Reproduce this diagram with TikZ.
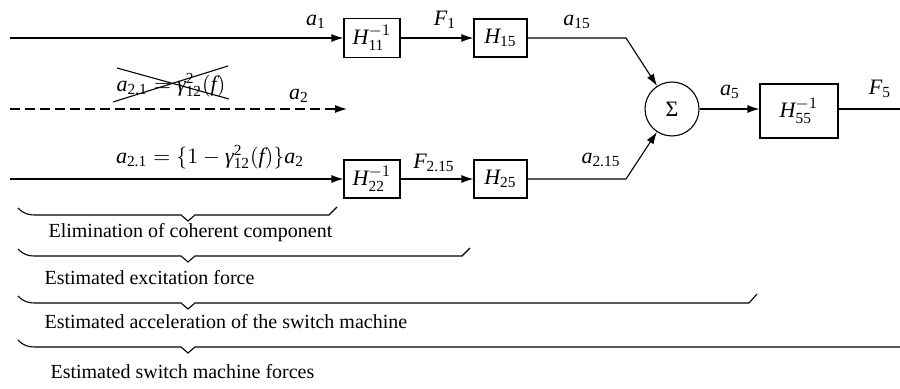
\documentclass[tikz,border=0pt]{standalone}
\usepackage{amsmath}
\usepackage{fontspec}
\setmainfont{Liberation Serif}
\usetikzlibrary{arrows.meta}
\newcommand\mv[1]{\text{\itshape #1}}
\newcommand\nr[1]{\text{#1}}
\begin{document}
\begin{tikzpicture}[x=0.5pt,y=-0.5pt,line width=0.55pt,
  font=\fontsize{10}{12}\selectfont,
  mth/.style={font=\fontsize{11}{13}\selectfont},
  blk/.style={draw,inner sep=0pt,mth},
  arr/.style={-{Latex[length=6pt,width=4pt]}},
  lbl/.style={inner sep=0pt,mth},
  txt/.style={inner sep=0pt,anchor=west},
  brc/.style={line width=0.55pt}]
\useasboundingbox (0,0) rectangle (900,389);
% blocks
\node[blk,minimum width=28pt,minimum height=19.5pt] (h11) at (372,38) {$\mv{H}_{\nr{11}}^{-1}$};
\node[blk,minimum width=26.5pt,minimum height=19pt] (h15) at (500.5,38) {$\mv{H}_{\nr{15}}$};
\node[blk,minimum width=28pt,minimum height=19pt] (h22) at (372,179) {$\mv{H}_{\nr{22}}^{-1}$};
\node[blk,minimum width=26.5pt,minimum height=19pt] (h25) at (500.5,179) {$\mv{H}_{\nr{25}}$};
\node[circle,draw,minimum size=27pt,inner sep=0pt,mth] (sum) at (672,109) {Σ};
\node[blk,minimum width=39pt,minimum height=27pt] (h55) at (799,111) {$\mv{H}_{\nr{55}}^{-1}$};
% coordinates
\coordinate (s1) at (10,38);
\coordinate (s2) at (10,179);
\coordinate (d1) at (10,109);
\coordinate (d2) at (347,109);
\coordinate (k1) at (626,38);
\coordinate (k2) at (626,179);
\coordinate (e5) at (900,109);
% connectors
\draw[arr] (s1) -- (h11);
\draw[arr] (h11) -- (h15);
\draw[arr] (h15.east) -- (k1) -- (sum);
\draw[arr] (s2) -- (h22);
\draw[arr] (h22) -- (h25);
\draw[arr] (h25.east) -- (k2) -- (sum);
\draw[arr] (sum.east) -- (sum.east -| h55.west);
\draw (h55.east |- e5) -- (e5);
\draw[arr,dash pattern=on 5pt off 2.5pt] (d1) -- (d2);
% labels
\node[lbl] (la1) at (316,22) {$\mv{a}_{\nr{1}}$};
\node[lbl] (lf1) at (445,20) {$\mv{F}_{\nr{1}}$};
\node[lbl] (la15) at (577,22) {$\mv{a}_{\nr{15}}$};
\node[lbl] (la5) at (730,92) {$\mv{a}_{\nr{5}}$};
\node[lbl] (lf5) at (880,89) {$\mv{F}_{\nr{5}}$};
\node[lbl] (la2) at (299,96) {$\mv{a}_{\nr{2}}$};
\node[lbl] (lf215) at (434,163) {$\mv{F}_{\nr{2.15}}$};
\node[lbl] (la215) at (601,160) {$\mv{a}_{\nr{2.15}}$};
\node[lbl] (lx) at (171,85) {$\mv{a}_{\nr{2.1}} = \mv{γ}^{\nr{2}}_{\nr{12}}(\mv{f})$};
\draw (117,68) -- (229,99);
\draw (113,102) -- (228,66);
\node[lbl] (la21) at (210,157) {$\mv{a}_{\nr{2.1}} = \{1 - \mv{γ}^{\nr{2}}_{\nr{12}}(\mv{f})\}\mv{a}_{\nr{2}}$};
% braces
\draw[brc] (18,208) .. controls (24,214) and (28,215) .. (36,215) -- (181,215) -- (188,221) -- (195,215) -- (329,215) -- (337,207);
\draw[brc] (18,249) .. controls (24,255) and (28,256) .. (36,256) -- (181,256) -- (188,262) -- (195,256) -- (462,256) -- (470,248);
\draw[brc] (18,296) .. controls (24,302) and (28,303) .. (36,303) -- (181,303) -- (188,309) -- (195,303) -- (749,303) -- (757,294);
\draw[brc] (18,340) .. controls (24,346) and (28,347) .. (36,347) -- (181,347) -- (188,353) -- (195,347) -- (900,347);
% texts
\node[txt] (t1) at (48,233) {Elimination of coherent component};
\node[txt] (t2) at (44,278) {Estimated excitation force};
\node[txt] (t3) at (44,322) {Estimated acceleration of the switch machine};
\node[txt] (t4) at (50,372) {Estimated switch machine forces};
\end{tikzpicture}
\end{document}
